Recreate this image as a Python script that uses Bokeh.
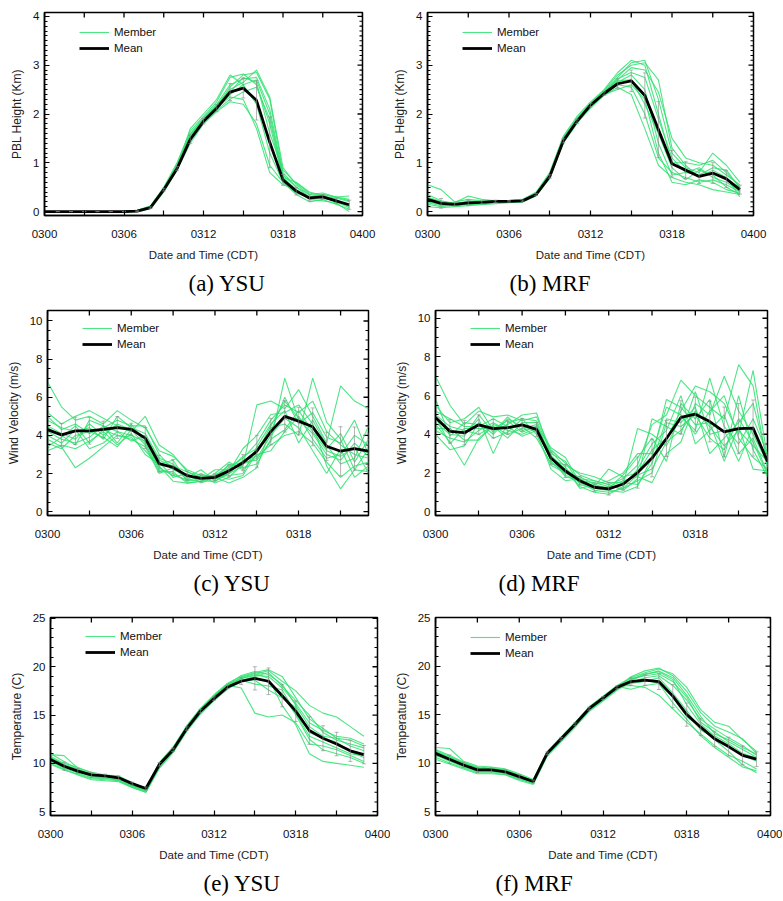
import numpy as np
from bokeh.plotting import figure
from bokeh.models import (Range1d, FixedTicker, Legend, LegendItem,
                          Title, Whisker, ColumnDataSource)
from bokeh.layouts import column, row
from bokeh.embed import file_html
from bokeh.resources import INLINE

# ---------------- data ----------------
hours = list(range(24))
x_ticks = [0, 3, 6, 9, 12, 15, 18, 21, 24]
x_tick_labels = ["0300", "", "0306", "", "0312", "", "0318", "", "0400"]

# (a) PBL height, YSU
pbl_ysu_mean = [0, 0, 0, 0, 0, 0, 0, 0.01, 0.08, 0.45, 0.88, 1.48, 1.85, 2.12, 2.45, 2.53,
                2.28, 1.42, 0.65, 0.42, 0.28, 0.30, 0.22, 0.14]
pbl_ysu_members = [
    [0, 0, 0, 0, 0, 0, 0, 0.02, 0.10, 0.45, 0.92, 1.50, 1.88, 2.15, 2.55, 2.80, 2.85, 2.30, 0.80, 0.50, 0.30, 0.35, 0.30, 0.25],
    [0, 0, 0, 0, 0, 0, 0, 0.01, 0.08, 0.42, 0.88, 1.45, 1.85, 2.10, 2.40, 2.60, 2.70, 2.00, 0.70, 0.45, 0.25, 0.30, 0.20, 0.15],
    [0, 0, 0, 0, 0, 0, 0, 0.02, 0.12, 0.50, 1.00, 1.65, 1.95, 2.25, 2.75, 2.82, 2.60, 1.80, 0.65, 0.40, 0.30, 0.28, 0.22, 0.10],
    [0, 0, 0, 0, 0, 0, 0, 0.00, 0.06, 0.40, 0.85, 1.40, 1.80, 2.05, 2.25, 2.20, 1.80, 0.95, 0.60, 0.35, 0.20, 0.25, 0.15, 0.05],
    [0, 0, 0, 0, 0, 0, 0, 0.02, 0.09, 0.46, 0.95, 1.55, 1.90, 2.18, 2.50, 2.65, 2.90, 2.35, 0.90, 0.55, 0.35, 0.38, 0.30, 0.32],
    [0, 0, 0, 0, 0, 0, 0, 0.01, 0.10, 0.44, 0.90, 1.52, 1.86, 2.12, 2.35, 2.30, 1.70, 0.80, 0.55, 0.45, 0.25, 0.22, 0.18, 0.00],
    [0, 0, 0, 0, 0, 0, 0, 0.03, 0.11, 0.47, 0.93, 1.60, 1.92, 2.20, 2.60, 2.72, 2.75, 2.10, 0.75, 0.50, 0.35, 0.30, 0.28, 0.20],
    [0, 0, 0, 0, 0, 0, 0, 0.01, 0.07, 0.43, 0.87, 1.48, 1.83, 2.08, 2.30, 2.45, 2.55, 1.90, 0.70, 0.60, 0.40, 0.33, 0.25, 0.12],
    [0, 0, 0, 0, 0, 0, 0, 0.02, 0.09, 0.45, 0.91, 1.70, 2.00, 2.30, 2.80, 2.60, 2.20, 1.20, 0.60, 0.38, 0.28, 0.35, 0.30, 0.22],
    [0, 0, 0, 0, 0, 0, 0, 0.02, 0.10, 0.48, 0.96, 1.58, 1.90, 2.16, 2.45, 2.75, 2.65, 1.60, 0.85, 0.58, 0.38, 0.32, 0.20, 0.08],
]

# (b) PBL height, MRF
pbl_mrf_mean = [0.25, 0.17, 0.15, 0.18, 0.19, 0.21, 0.21, 0.22, 0.35, 0.72, 1.45, 1.85, 2.18, 2.42,
                2.62, 2.68, 2.38, 1.68, 0.98, 0.85, 0.72, 0.79, 0.67, 0.45]
pbl_mrf_members = [
    [0.55, 0.45, 0.20, 0.25, 0.22, 0.20, 0.22, 0.24, 0.38, 0.78, 1.50, 1.90, 2.20, 2.45, 2.75, 3.05, 3.10, 2.30, 1.20, 0.90, 0.80, 1.20, 0.95, 0.60],
    [0.30, 0.20, 0.18, 0.32, 0.25, 0.22, 0.23, 0.25, 0.40, 0.80, 1.55, 1.95, 2.25, 2.50, 2.85, 3.10, 3.00, 2.00, 1.00, 1.00, 0.95, 1.05, 0.80, 0.50],
    [0.20, 0.15, 0.12, 0.15, 0.15, 0.18, 0.20, 0.20, 0.33, 0.70, 1.40, 1.80, 2.15, 2.40, 2.60, 2.55, 2.00, 1.10, 0.80, 0.70, 0.60, 0.65, 0.55, 0.40],
    [0.10, 0.08, 0.10, 0.12, 0.14, 0.16, 0.18, 0.20, 0.32, 0.68, 1.42, 1.82, 2.12, 2.38, 2.55, 2.40, 1.70, 0.95, 0.70, 0.60, 0.55, 0.45, 0.40, 0.35],
    [0.25, 0.18, 0.15, 0.22, 0.20, 0.22, 0.22, 0.23, 0.36, 0.74, 1.48, 1.86, 2.18, 2.44, 2.70, 2.95, 2.90, 2.45, 1.50, 1.10, 1.00, 0.95, 0.75, 0.55],
    [0.18, 0.12, 0.14, 0.16, 0.18, 0.20, 0.21, 0.22, 0.34, 0.72, 1.45, 1.84, 2.16, 2.42, 2.65, 2.80, 2.50, 1.40, 0.75, 0.80, 0.90, 0.70, 0.60, 0.42],
    [0.35, 0.22, 0.16, 0.20, 0.18, 0.19, 0.20, 0.21, 0.35, 0.75, 1.52, 1.92, 2.22, 2.48, 2.80, 3.00, 3.05, 2.70, 1.30, 0.95, 0.70, 0.85, 0.70, 0.30],
    [0.15, 0.10, 0.13, 0.14, 0.16, 0.18, 0.19, 0.22, 0.36, 0.71, 1.44, 1.83, 2.14, 2.40, 2.50, 2.60, 2.30, 1.20, 0.60, 0.55, 0.65, 0.60, 0.45, 0.38],
    [0.28, 0.20, 0.17, 0.19, 0.21, 0.23, 0.22, 0.24, 0.37, 0.76, 1.47, 1.87, 2.19, 2.46, 2.72, 2.85, 2.75, 1.90, 1.10, 0.80, 0.75, 0.90, 0.85, 0.48],
    [0.22, 0.14, 0.11, 0.17, 0.19, 0.21, 0.21, 0.23, 0.35, 0.73, 1.46, 1.85, 2.17, 2.43, 2.68, 2.70, 2.20, 1.60, 0.90, 0.65, 0.85, 0.75, 0.50, 0.35],
]

# (c) wind velocity, YSU
wind_ysu_mean = [4.30, 4.03, 4.24, 4.24, 4.32, 4.41, 4.32, 3.86, 2.52, 2.32, 1.89, 1.75, 1.80, 2.14,
                 2.57, 3.17, 4.20, 5.00, 4.75, 4.45, 3.43, 3.17, 3.31, 3.17]
wind_ysu_members = [
    [6.8, 5.5, 4.8, 5.0, 4.6, 5.3, 4.8, 4.4, 3.2, 2.9, 2.2, 1.9, 1.9, 2.3, 2.8, 3.6, 4.8, 5.6, 5.2, 5.8, 4.2, 3.5, 3.0, 2.8],
    [5.2, 4.6, 5.0, 5.3, 4.9, 4.5, 4.2, 5.0, 3.5, 3.0, 2.1, 1.8, 1.7, 2.0, 2.4, 5.6, 5.8, 5.4, 6.4, 5.0, 3.6, 6.6, 5.8, 5.4],
    [4.2, 3.8, 3.6, 3.9, 4.5, 3.6, 4.6, 3.6, 2.2, 2.0, 1.6, 1.7, 1.9, 2.4, 2.6, 2.7, 3.7, 7.0, 4.8, 4.1, 3.0, 2.7, 3.6, 2.9],
    [3.8, 3.4, 2.3, 2.8, 3.4, 4.0, 3.9, 3.2, 2.4, 1.6, 1.5, 1.6, 1.8, 1.5, 1.8, 2.3, 4.4, 4.6, 4.0, 7.0, 4.7, 3.8, 2.2, 3.3],
    [4.8, 4.4, 4.2, 4.4, 3.8, 5.0, 4.4, 4.1, 2.8, 2.5, 1.8, 2.2, 1.6, 2.1, 3.3, 4.0, 5.1, 5.2, 5.6, 4.6, 2.4, 1.2, 2.2, 2.1],
    [3.4, 3.9, 4.5, 3.6, 4.3, 4.0, 3.8, 3.4, 2.0, 2.3, 1.7, 1.6, 2.0, 2.6, 2.2, 3.0, 3.2, 4.2, 5.0, 3.8, 2.8, 3.0, 4.0, 3.5],
    [4.5, 4.1, 3.8, 4.6, 4.0, 4.6, 4.3, 3.9, 2.6, 1.8, 2.0, 1.5, 1.8, 1.9, 2.0, 3.4, 4.6, 5.3, 3.6, 4.8, 3.5, 2.5, 2.8, 4.5],
    [3.2, 3.5, 3.3, 3.7, 4.2, 3.5, 4.1, 3.0, 2.5, 2.7, 1.6, 1.9, 1.5, 1.8, 2.5, 2.8, 4.0, 4.9, 4.4, 3.2, 2.0, 3.3, 1.8, 2.4],
    [5.0, 4.3, 4.6, 4.1, 4.4, 4.8, 4.5, 4.5, 3.0, 2.2, 1.9, 1.7, 2.2, 2.2, 2.9, 3.3, 4.2, 6.0, 4.6, 5.2, 3.9, 3.6, 4.8, 3.0],
    [4.0, 3.6, 4.3, 3.3, 3.6, 4.2, 4.0, 3.7, 2.3, 1.9, 1.7, 2.0, 1.7, 2.5, 2.3, 2.5, 3.8, 4.3, 5.3, 4.2, 3.2, 2.9, 3.4, 2.0],
    [4.4, 4.0, 3.5, 4.8, 4.5, 4.2, 3.7, 4.0, 2.7, 2.4, 2.1, 1.8, 1.9, 1.7, 1.9, 3.1, 4.5, 5.8, 4.9, 4.4, 3.3, 4.1, 2.6, 3.8],
    [3.6, 3.3, 4.0, 4.2, 3.9, 3.4, 4.3, 3.5, 2.1, 2.1, 1.5, 1.6, 1.6, 2.0, 2.7, 2.9, 3.5, 4.0, 4.2, 3.6, 2.6, 1.8, 2.4, 2.6],
]

# (d) wind velocity, MRF
wind_mrf_mean = [4.87, 4.15, 4.08, 4.49, 4.29, 4.34, 4.49, 4.25, 2.77, 2.10, 1.60, 1.26, 1.18, 1.43,
                 2.02, 2.77, 3.78, 4.87, 5.04, 4.66, 4.12, 4.29, 4.32, 2.60]
wind_mrf_members = [
    [7.0, 5.5, 4.5, 5.2, 4.9, 5.0, 4.7, 4.9, 3.2, 2.5, 1.9, 1.6, 1.4, 1.7, 2.4, 4.5, 5.0, 6.8, 6.0, 5.4, 4.8, 7.6, 6.5, 2.3],
    [5.5, 4.6, 4.8, 5.4, 4.2, 4.5, 5.0, 5.1, 2.9, 2.2, 1.7, 1.3, 2.2, 1.8, 2.0, 3.2, 3.8, 5.2, 6.5, 6.2, 5.6, 4.0, 7.3, 2.8],
    [4.5, 3.6, 2.4, 3.8, 4.4, 4.0, 4.3, 4.5, 2.6, 1.9, 1.5, 1.1, 1.0, 1.2, 1.6, 2.0, 4.6, 4.4, 5.0, 3.8, 3.2, 4.8, 3.6, 1.9],
    [4.8, 4.2, 4.0, 4.8, 3.0, 4.6, 4.8, 4.0, 2.4, 2.0, 1.8, 1.4, 1.2, 1.4, 4.3, 4.0, 3.4, 4.9, 4.2, 6.9, 4.4, 3.5, 4.8, 3.0],
    [4.2, 3.8, 3.6, 4.2, 4.6, 4.2, 4.0, 4.3, 3.0, 2.6, 1.4, 1.2, 1.1, 1.0, 1.3, 2.8, 5.8, 5.4, 4.5, 4.6, 2.6, 4.4, 2.2, 2.1],
    [5.0, 4.4, 4.2, 4.0, 4.4, 3.8, 4.6, 4.6, 2.8, 1.8, 1.6, 1.5, 1.3, 1.6, 1.8, 1.5, 3.0, 3.6, 5.6, 5.0, 7.0, 5.2, 4.0, 2.5],
    [4.0, 3.2, 3.4, 4.6, 4.0, 4.8, 4.4, 3.8, 2.5, 2.1, 1.3, 1.0, 0.9, 1.3, 2.2, 3.5, 4.2, 6.0, 3.5, 4.2, 5.0, 3.0, 3.8, 2.0],
    [5.2, 4.8, 4.4, 4.4, 4.8, 4.4, 3.9, 4.2, 2.7, 2.4, 2.0, 1.8, 1.5, 1.5, 1.4, 2.5, 4.8, 4.6, 5.4, 3.0, 3.8, 4.6, 5.6, 2.7],
    [4.6, 4.0, 3.9, 5.0, 4.1, 4.9, 4.2, 4.4, 3.3, 2.8, 1.5, 1.3, 1.2, 1.9, 2.8, 3.8, 2.6, 5.6, 4.8, 5.8, 2.8, 6.0, 3.2, 1.8],
    [4.3, 4.3, 3.7, 3.7, 4.5, 4.3, 4.5, 4.1, 2.2, 1.6, 1.7, 1.6, 1.4, 1.1, 1.7, 4.8, 4.4, 4.0, 6.2, 4.0, 4.2, 2.6, 4.4, 2.4],
    [5.8, 3.9, 4.6, 4.5, 3.8, 4.1, 4.8, 4.7, 3.1, 2.3, 1.2, 1.4, 1.6, 2.0, 3.0, 3.0, 5.4, 5.0, 4.0, 5.2, 6.0, 3.8, 2.8, 2.2],
    [4.9, 3.5, 4.3, 4.3, 4.3, 4.7, 4.1, 4.4, 2.6, 2.0, 1.6, 1.2, 1.3, 1.2, 1.9, 2.2, 3.6, 4.2, 5.2, 4.4, 3.4, 4.2, 3.4, 2.6],
]

# (e) temperature, YSU
temp_ysu_mean = [10.4, 9.7, 9.2, 8.8, 8.7, 8.5, 7.9, 7.4, 9.9, 11.4, 13.6, 15.4, 16.7, 17.9, 18.5,
                 18.8, 18.5, 17.0, 15.4, 13.4, 12.6, 12.0, 11.3, 10.9]
temp_ysu_members = [
    [10.9, 10.8, 9.5, 9.1, 8.8, 8.7, 8.0, 7.4, 10.0, 11.6, 13.8, 15.6, 17.0, 18.2, 18.8, 19.2, 19.6, 18.5, 17.5, 16.0, 15.2, 14.8, 13.8, 12.8],
    [10.0, 9.4, 8.8, 8.3, 8.2, 8.1, 7.5, 7.0, 9.6, 11.2, 13.4, 15.2, 16.6, 17.8, 18.6, 19.0, 19.4, 18.0, 16.5, 15.0, 13.2, 12.4, 12.0, 11.6],
    [10.5, 9.8, 9.3, 8.8, 8.6, 8.4, 7.8, 7.3, 9.9, 11.5, 13.7, 15.5, 16.9, 18.1, 17.8, 15.2, 14.8, 15.0, 14.2, 12.0, 11.8, 11.4, 10.8, 10.2],
    [10.2, 9.5, 9.0, 8.5, 8.4, 8.3, 7.6, 7.1, 9.7, 11.3, 13.5, 15.3, 16.7, 17.9, 18.9, 19.3, 18.8, 16.0, 14.0, 11.0, 10.2, 10.0, 9.8, 9.6],
    [11.0, 10.2, 9.4, 8.9, 8.7, 8.6, 7.9, 7.5, 10.1, 11.7, 13.9, 15.7, 17.1, 18.3, 19.0, 19.4, 19.7, 19.0, 16.8, 14.6, 13.6, 12.6, 11.8, 11.3],
    [10.4, 9.7, 9.2, 8.6, 8.5, 8.5, 7.7, 7.2, 9.8, 11.4, 13.6, 15.4, 16.8, 18.0, 18.7, 18.6, 17.6, 16.8, 15.8, 13.2, 12.6, 12.2, 11.2, 10.6],
    [9.9, 9.3, 8.9, 8.4, 8.3, 8.2, 7.5, 7.0, 9.5, 11.1, 13.3, 15.1, 16.5, 17.7, 18.5, 18.8, 18.4, 17.2, 15.0, 12.5, 11.4, 11.0, 10.6, 10.0],
    [10.7, 10.0, 9.6, 9.0, 8.6, 8.6, 7.8, 7.3, 10.0, 11.6, 13.8, 15.6, 17.0, 18.2, 19.1, 19.5, 19.2, 18.2, 16.0, 13.8, 12.8, 12.6, 12.4, 11.8],
    [10.3, 9.6, 9.1, 8.7, 8.5, 8.2, 7.6, 7.2, 9.8, 11.4, 13.6, 15.4, 16.8, 18.0, 18.6, 18.2, 18.0, 17.6, 15.2, 12.8, 12.2, 11.6, 11.0, 10.8],
    [10.6, 9.9, 9.4, 8.8, 8.7, 8.4, 7.7, 7.3, 9.9, 11.5, 13.7, 15.5, 16.9, 18.1, 18.8, 19.1, 19.0, 17.8, 16.2, 14.2, 13.4, 12.8, 12.6, 12.0],
]

# (f) temperature, MRF
temp_mrf_mean = [11.0, 10.4, 9.8, 9.3, 9.3, 9.1, 8.6, 8.1, 11.0, 12.5, 14.0, 15.6, 16.7, 17.8, 18.4,
                 18.55, 18.4, 16.9, 15.0, 13.7, 12.5, 11.7, 10.8, 10.4]
temp_mrf_members = [
    [11.6, 11.5, 10.2, 9.7, 9.6, 9.4, 8.9, 8.3, 11.2, 12.7, 14.2, 15.8, 16.9, 18.0, 18.8, 19.3, 19.7, 19.2, 17.8, 15.5, 14.2, 13.8, 12.4, 11.2],
    [10.6, 10.0, 9.5, 9.0, 9.0, 8.8, 8.3, 7.9, 10.8, 12.3, 13.8, 15.4, 16.5, 17.6, 18.3, 18.8, 19.0, 18.0, 16.5, 14.5, 13.5, 12.6, 11.8, 10.8],
    [11.2, 10.6, 10.0, 9.5, 9.4, 9.3, 8.7, 8.2, 11.1, 12.6, 14.1, 15.7, 16.8, 17.9, 18.0, 17.8, 17.0, 15.6, 14.2, 13.0, 11.8, 10.8, 10.2, 9.4],
    [10.8, 10.2, 9.6, 9.1, 9.1, 8.9, 8.4, 7.9, 10.9, 12.4, 13.9, 15.5, 16.6, 17.7, 18.6, 19.2, 19.4, 18.6, 16.0, 14.0, 12.8, 12.0, 11.0, 10.5],
    [11.4, 10.8, 10.1, 9.6, 9.5, 9.3, 8.8, 8.2, 11.1, 12.6, 14.1, 15.7, 16.8, 17.9, 17.6, 18.0, 18.2, 16.8, 14.8, 13.6, 12.4, 11.2, 9.8, 9.0],
    [11.0, 10.4, 9.8, 9.3, 9.2, 9.1, 8.6, 8.1, 11.0, 12.5, 14.0, 15.6, 16.7, 17.8, 18.9, 19.5, 19.8, 19.0, 17.4, 15.2, 13.8, 13.2, 12.5, 11.0],
    [10.4, 9.9, 9.4, 8.9, 8.9, 8.8, 8.2, 7.8, 10.7, 12.2, 13.7, 15.3, 16.4, 17.5, 18.4, 18.6, 18.2, 16.2, 14.5, 12.8, 11.6, 10.6, 9.6, 9.2],
    [11.2, 10.5, 9.9, 9.4, 9.3, 9.2, 8.6, 8.1, 11.0, 12.5, 14.0, 15.6, 16.7, 17.8, 18.7, 19.0, 19.2, 18.4, 16.8, 14.2, 13.2, 12.2, 11.4, 10.6],
    [10.9, 10.3, 9.7, 9.2, 9.2, 9.0, 8.5, 8.0, 10.9, 12.4, 13.9, 15.5, 16.6, 17.7, 18.2, 18.4, 18.8, 17.2, 15.4, 13.4, 12.6, 11.6, 10.8, 10.2],
    [11.3, 10.7, 10.0, 9.5, 9.4, 9.2, 8.7, 8.2, 11.1, 12.6, 14.1, 15.7, 16.8, 17.9, 18.5, 19.1, 19.5, 18.8, 17.0, 14.8, 13.0, 12.4, 11.6, 10.9],
]

# ---------------- styling ----------------
SANS = "Liberation Sans"
SERIF = "Liberation Serif"
MEMBER_COLOR = "#2fe070"


def make_panel(members, mean, width, height, bl, br, bt, bb, x_end, y_rng,
               y_major, y_minor_step, y_label, caption, cap_offset):
    p = figure(width=width, height=height, output_backend="svg", toolbar_location=None,
               x_range=Range1d(0, x_end), y_range=Range1d(*y_rng),
               min_border_left=bl, min_border_right=br, min_border_top=bt,
               min_border_bottom=bb)
    p.xgrid.visible = False
    p.ygrid.visible = False
    p.outline_line_color = "black"
    p.outline_line_width = 1.5
    p.background_fill_color = "white"
    p.border_fill_color = "white"

    y_minor = [round(v, 3) for v in np.arange(y_major[0], y_major[-1] + 1e-9, y_minor_step)]
    y_minor_only = [v for v in y_minor if v not in y_major]
    xt = FixedTicker(ticks=x_ticks, minor_ticks=[])
    yt = FixedTicker(ticks=y_major, minor_ticks=y_minor)

    xa = p.xaxis[0]
    xa.ticker = xt
    xa.major_label_overrides = {t: l for t, l in zip(x_ticks, x_tick_labels)}
    xa.axis_label = "Date and Time (CDT)"
    xa.major_label_standoff = 14
    xa.axis_label_standoff = 8

    ya = p.yaxis[0]
    ya.ticker = yt
    ya.axis_label = y_label
    ya.major_label_standoff = 5
    ya.axis_label_standoff = 6

    for ax in (xa, ya):
        ax.axis_line_color = "black"
        ax.axis_line_width = 1.5
        ax.major_tick_in = 5
        ax.major_tick_out = 0
        ax.minor_tick_in = 3
        ax.minor_tick_out = 0
        ax.major_tick_line_color = "black"
        ax.minor_tick_line_color = "black"
        ax.major_tick_line_width = 1.2
        ax.minor_tick_line_width = 1
        ax.major_label_text_font = SANS
        ax.major_label_text_color = "#111111"
        ax.major_label_text_font_size = "11.5px"
        ax.axis_label_text_font = SANS
        ax.axis_label_text_font_style = "normal"
        ax.axis_label_text_color = "#222222"
    xa.axis_label_text_font_size = "11.5px"
    ya.axis_label_text_font_size = "12px"

    # mirrored inward tick marks on the right and top frame edges
    x_top_ticks = [t for t in x_ticks if t <= x_end]
    p.scatter([x_end] * len(y_major), y_major, marker="dash", size=10,
              line_color="black", line_width=1.3)
    p.scatter([x_end] * len(y_minor_only), y_minor_only, marker="dash", size=6,
              line_color="black", line_width=1.1)
    p.scatter(x_top_ticks, [y_rng[1]] * len(x_top_ticks), marker="dash", size=10,
              angle=np.pi / 2, line_color="black", line_width=1.3)

    member_renderers = []
    for m in members:
        member_renderers.append(
            p.line(hours, m, line_color=MEMBER_COLOR, line_width=1.1, line_alpha=0.85))

    arr = np.array(members)
    sd = arr.std(axis=0)
    mean_arr = np.array(mean)
    src = ColumnDataSource(dict(x=hours, upper=mean_arr + sd, lower=mean_arr - sd))
    wh = Whisker(source=src, base="x", upper="upper", lower="lower",
                 line_color="#8a8a8a", line_width=0.8, line_alpha=0.8, level="glyph")
    for head in (wh.upper_head, wh.lower_head):
        head.size = 4
        head.line_color = "#8a8a8a"
        head.line_width = 0.8
        head.line_alpha = 0.8
    p.add_layout(wh)

    r_mean = p.line(hours, mean, line_color="black", line_width=2.8)

    frame_h = height - bt - bb
    legend = Legend(items=[LegendItem(label="Member", renderers=[member_renderers[0]]),
                           LegendItem(label="Mean", renderers=[r_mean])],
                    location=(35, frame_h - 13.5 - 32))
    legend.border_line_color = None
    legend.background_fill_alpha = 0
    legend.padding = 0
    legend.margin = 0
    legend.spacing = 0
    legend.glyph_width = 30
    legend.glyph_height = 16
    legend.label_height = 16
    legend.label_standoff = 5
    legend.label_text_font = SANS
    legend.label_text_font_size = "11.5px"
    legend.label_text_color = "#111111"
    p.add_layout(legend)

    cap = Title(text=caption, align="left", offset=cap_offset, text_font=SERIF,
                text_font_size="23px", text_font_style="normal", text_color="black",
                standoff=10)
    p.add_layout(cap, "below")
    return p


pa = make_panel(pbl_ysu_members, pbl_ysu_mean, 390, 300, 44, 28, 12, 83, 24, (-0.08, 4.08),
                [0, 1, 2, 3, 4], 0.1, "PBL Height (Km)", "(a) YSU", 144)
pb = make_panel(pbl_mrf_members, pbl_mrf_mean, 392, 300, 35, 29, 12, 83, 24, (-0.08, 4.08),
                [0, 1, 2, 3, 4], 0.1, "PBL Height (Km)", "(b) MRF", 82)
pc = make_panel(wind_ysu_members, wind_ysu_mean, 390, 300, 47, 22, 10, 81, 23, (-0.2, 10.55),
                [0, 2, 4, 6, 8, 10], 0.5, "Wind Velocity (m/s)", "(c) YSU", 146)
pd = make_panel(wind_mrf_members, wind_mrf_mean, 392, 300, 45, 15, 10, 81, 23, (-0.2, 10.4),
                [0, 2, 4, 6, 8, 10], 0.5, "Wind Velocity (m/s)", "(d) MRF", 63)
pe = make_panel(temp_ysu_members, temp_ysu_mean, 390, 300, 50, 13, 17, 82, 24, (4.6, 25.1),
                [5, 10, 15, 20, 25], 1, "Temperature (C)", "(e) YSU", 153)
pf = make_panel(temp_mrf_members, temp_mrf_mean, 392, 300, 45, 12, 15, 85, 24, (4.6, 25.0),
                [5, 10, 15, 20, 25], 1, "Temperature (C)", "(f) MRF", 60)

layout = column(row(pa, pb), row(pc, pd), row(pe, pf))

open("out.html", "w").write(file_html(layout, INLINE))
